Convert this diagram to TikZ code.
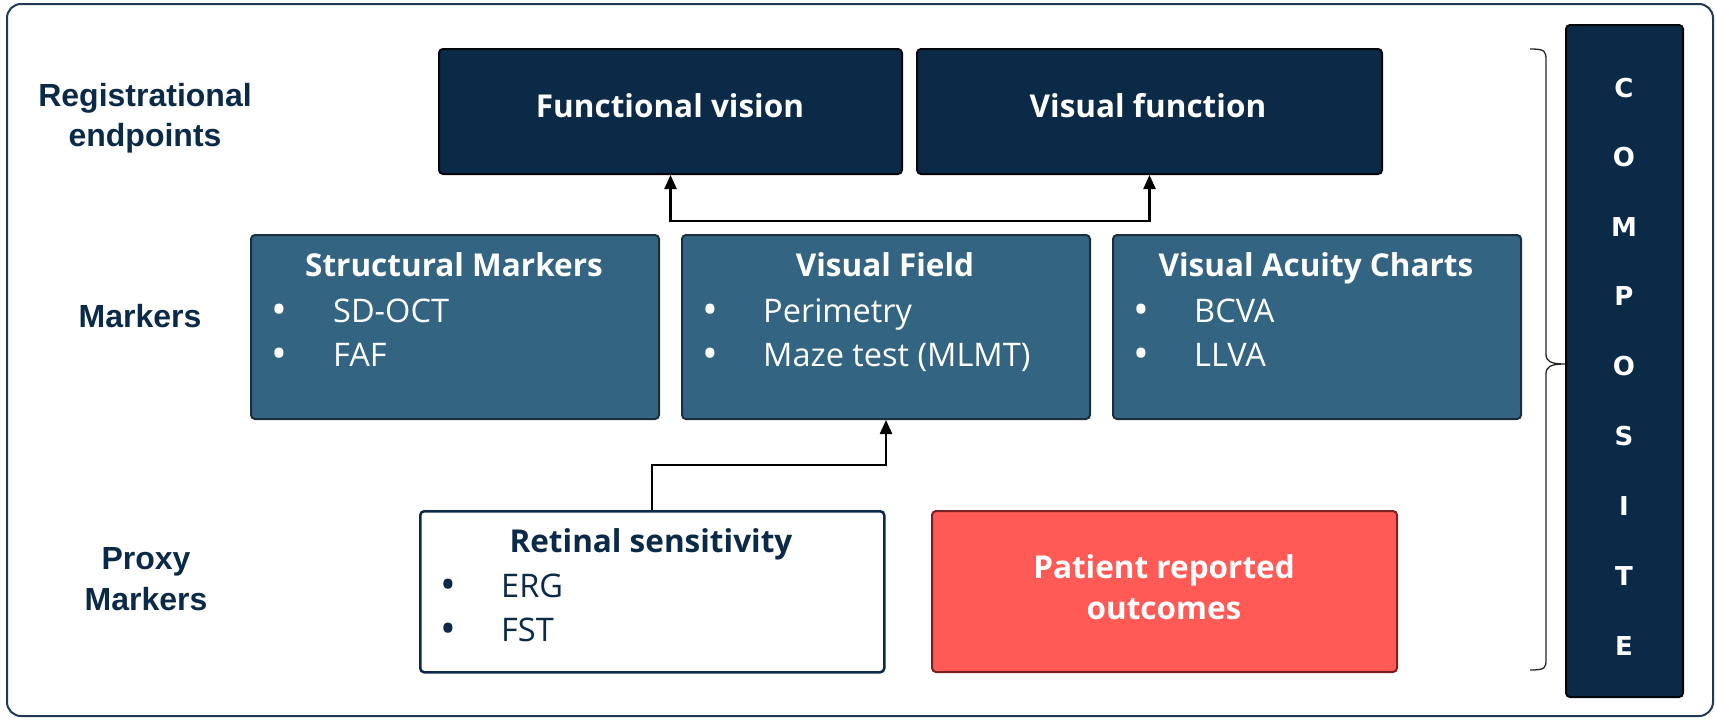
\documentclass[tikz,border=0pt]{standalone}
\usepackage{fontspec}
\setmainfont{Open Sans}
\newfontfamily\titlefont{Open Sans}
\newfontfamily\labelfont{Liberation Sans}
\newfontfamily\compfont{DejaVu Sans}
\usetikzlibrary{arrows.meta,calc}
\definecolor{navy}{HTML}{0B2A47}
\definecolor{midblue}{HTML}{336482}
\definecolor{bluebd}{HTML}{1C2E3C}
\definecolor{prored}{HTML}{FF5A55}
\definecolor{probd}{HTML}{7A2222}
\definecolor{framebd}{HTML}{1E3A55}
\tikzset{
  navybox/.style={draw=black!85!navy, fill=navy, line width=2pt, rounded corners=4pt, anchor=north west, inner sep=0pt},
  bluebox/.style={draw=bluebd, fill=midblue, line width=2pt, rounded corners=4pt, anchor=north west, inner sep=0pt},
  whitebox/.style={draw=navy, fill=white, line width=2.5pt, rounded corners=4pt, anchor=north west, inner sep=0pt},
  redbox/.style={draw=probd, fill=prored, line width=2pt, rounded corners=4pt, anchor=north west, inner sep=0pt},
  compbox/.style={draw=black!85!navy, fill=navy, line width=2pt, rounded corners=4pt, anchor=north west, inner sep=0pt},
  ttl/.style={anchor=base, inner sep=0pt, font=\titlefont\bfseries\fontsize{31.5}{36}\selectfont},
  itm/.style={anchor=base west, inner sep=0pt, font=\fontsize{32.5}{36}\selectfont},
  bul/.style={anchor=base west, inner sep=0pt, yshift=-2pt, font=\fontsize{42}{44}\selectfont},
  rowlab/.style={anchor=center, inner sep=0pt, align=center, text=navy, font=\labelfont\bfseries\fontsize{32}{40.5}\selectfont},
  compl/.style={anchor=center, inner sep=0pt, text=white, font=\compfont\bfseries\fontsize{26}{28}\selectfont},
  arr/.style={line width=2.4pt, draw=black, -{Triangle[length=14pt,width=12pt]}},
  dblarr/.style={line width=2.4pt, draw=black, {Triangle[length=14pt,width=12pt]}-{Triangle[length=14pt,width=12pt]}},
}
\begin{document}
\begin{tikzpicture}[x=1pt,y=-1pt]
\useasboundingbox (0,0) rectangle (1716,720);
\draw[draw=framebd, line width=2pt, rounded corners=14pt] (7,4) rectangle (1713,716);

% row labels
\node[rowlab] (lreg) at (145,118) {Registrational\\endpoints};
\node[rowlab] (lmark) at (140,316) {Markers};
\node[rowlab] (lproxy) at (146,579) {Proxy\\Markers};

% top boxes
\node[navybox, minimum width=463, minimum height=125] (fv) at (438,48) {};
\node[navybox, minimum width=465, minimum height=125] (vf) at (916,48) {};
\node[ttl, text=white] (fvt) at (670,117) {Functional vision};
\node[ttl, text=white] (vft2) at (1148,117) {Visual function};

% marker boxes
\node[bluebox, minimum width=408, minimum height=184] (sm) at (250,234) {};
\node[bluebox, minimum width=408, minimum height=184] (vfield) at (681,234) {};
\node[bluebox, minimum width=408, minimum height=184] (vac) at (1112,234) {};

\node[ttl, text=white] (smt) at (454,276) {Structural Markers};
\node[bul, text=white] (smb1) at (271,322) {•};
\node[itm, text=white] (smi1) at (333,322) {SD-OCT};
\node[bul, text=white] (smb2) at (271,366) {•};
\node[itm, text=white] (smi2) at (333,366) {FAF};

\node[ttl, text=white] (vft) at (885,276) {Visual Field};
\node[bul, text=white] (vfb1) at (702,322) {•};
\node[itm, text=white] (vfi1) at (763,322) {Perimetry};
\node[bul, text=white] (vfb2) at (702,366) {•};
\node[itm, text=white] (vfi2) at (763,366) {Maze test (MLMT)};

\node[ttl, text=white] (vact) at (1316,276) {Visual Acuity Charts};
\node[bul, text=white] (vacb1) at (1133,322) {•};
\node[itm, text=white] (vaci1) at (1194,322) {BCVA};
\node[bul, text=white] (vacb2) at (1133,366) {•};
\node[itm, text=white] (vaci2) at (1194,366) {LLVA};

% proxy boxes
\node[whitebox, minimum width=464, minimum height=161] (rs) at (419,510) {};
\node[ttl, text=navy] (rst) at (651,552) {Retinal sensitivity};
\node[bul, text=navy] (rsb1) at (440,597) {•};
\node[itm, text=navy] (rsi1) at (501,597) {ERG};
\node[bul, text=navy] (rsb2) at (440,641) {•};
\node[itm, text=navy] (rsi2) at (501,641) {FST};

\node[redbox, minimum width=465, minimum height=161] (pro) at (931,510) {};
\node[ttl, text=white] (prot1) at (1164,578) {Patient reported};
\node[ttl, text=white] (prot2) at (1164,619) {outcomes};

% composite
\node[compbox, minimum width=117, minimum height=672] (comp) at (1565,24) {};
\foreach \l/\yy [count=\i] in {C/88,O/157,M/227,P/296,O/366,S/436,I/506,T/576,E/646}{
  \node[compl] (c\i) at (1624,\yy) {\l};
}

% brace
\draw[line width=1.3pt, draw=black!85] (1530,49) .. controls (1545,49) and (1546,51) .. (1546,60) -- (1546,354) .. controls (1546,361) and (1550,364) .. (comp.west |- 0,364) .. controls (1550,364) and (1546,367) .. (1546,374) -- (1546,660) .. controls (1546,668) and (1545,670) .. (1530,670);

% connectors
\draw[dblarr] (fv.south) -- ++(0,46) -| (vf.south);
\draw[arr] (rs.north) -- ++(0,-45) -| (vfield.south);
\end{tikzpicture}
\end{document}
